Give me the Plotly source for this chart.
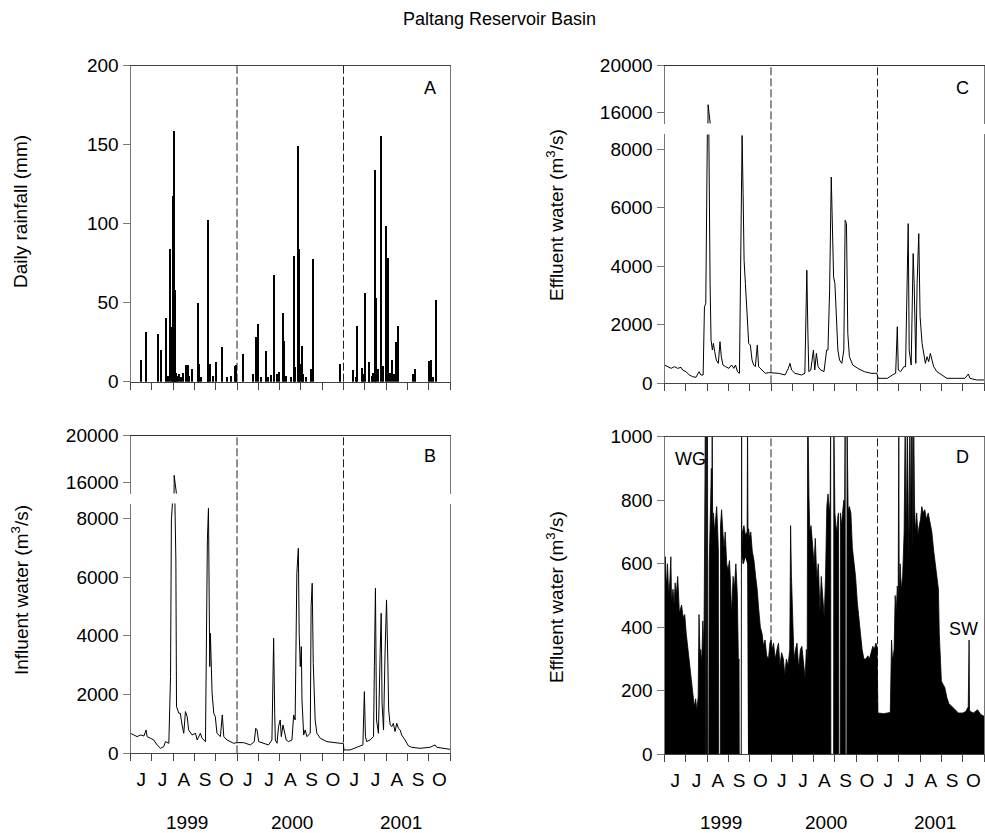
import plotly.graph_objects as go

W, H = 985, 833


def px(x):
    return x / W


def py(y):
    return 1 - y / H


month_labels = ['J', 'J', 'A', 'S', 'O'] * 3
year_labels = ['1999', '2000', '2001']
year_centers = [2.65, 7.6, 12.7]

# Panel A: daily rainfall (mm); x in season-month units (0-15)
rain_x = [0.48, 0.72, 1.27, 1.42, 1.66, 1.75, 1.84, 1.92, 1.98, 2.03, 2.08, 2.12, 2.18, 2.27, 2.35,
          2.45, 2.59, 2.67, 2.75, 2.88, 3.14, 3.20, 3.30, 3.61, 3.64, 3.70, 3.85, 4.02, 4.28, 4.50,
          4.70, 4.88, 4.95, 5.27, 5.72, 5.88, 5.95, 6.10, 6.34, 6.45, 6.58, 6.70, 6.85, 6.94, 7.14,
          7.20, 7.30, 7.50, 7.64, 7.72, 7.84, 7.89, 7.95, 8.03, 8.10, 8.20, 8.44, 8.53, 9.80, 10.45,
          10.55, 10.64, 10.84, 10.90, 11.00, 11.16, 11.19, 11.30, 11.36, 11.48, 11.52, 11.60, 11.75,
          11.85, 11.97, 12.05, 12.15, 12.27, 12.35, 12.45, 12.53, 13.23, 13.33, 14.02, 14.09, 14.20,
          14.33]
rain_mm = [13.7, 31.6, 30.6, 20.0, 40.7, 4.0, 84.2, 35.0, 118.0, 158.6, 58.4, 6.0, 4.0, 5.0, 3.0,
           6.0, 10.5, 10.5, 4.0, 8.4, 50.0, 11.6, 3.0, 102.3, 65.0, 11.6, 4.0, 12.7, 22.2, 3.0,
           4.0, 9.9, 10.5, 17.5, 4.9, 28.5, 37.0, 3.0, 19.4, 3.0, 4.2, 67.5, 5.0, 6.3, 43.7,
           26.0, 4.0, 3.0, 79.5, 9.5, 149.4, 84.0, 11.6, 22.6, 5.0, 3.0, 8.4, 77.6, 11.2, 7.8,
           3.0, 35.2, 9.1, 5.0, 56.5, 6.3, 12.7, 4.0, 5.5, 134.3, 53.0, 8.0, 156.0,
           10.0, 98.7, 78.7, 6.0, 13.7, 5.0, 25.3, 35.2, 4.9, 8.0, 13.1, 13.7, 3.0,
           52.1]

# Panel B: influent water (m3/s)
inf_x = [0.00, 0.16, 0.31, 0.47, 0.63, 0.73, 0.78, 0.94, 1.09, 1.25, 1.41, 1.56, 1.64, 1.80, 1.84,
         1.88, 1.92, 1.95, 2.03, 2.05, 2.07, 2.13, 2.16, 2.27, 2.34, 2.42, 2.50, 2.58, 2.66, 2.73,
         2.89, 3.05, 3.13, 3.28, 3.36, 3.52, 3.56, 3.61, 3.66, 3.69, 3.72, 3.75, 3.80, 3.83, 3.91,
         3.98, 4.06, 4.22, 4.31, 4.38, 4.53, 4.84, 5.00, 5.31, 5.63, 5.81, 5.88, 5.94, 6.02, 6.25,
         6.48, 6.64, 6.69, 6.72, 6.77, 6.80, 6.88, 6.95, 7.03, 7.08, 7.16, 7.22, 7.31, 7.42, 7.58,
         7.66, 7.73, 7.81, 7.88, 7.92, 7.97, 8.02, 8.05, 8.13, 8.20, 8.28, 8.44, 8.48, 8.53, 8.58,
         8.67, 8.75, 8.91, 9.22, 9.53, 9.84, 9.99, 10.02, 10.31, 10.55, 10.78, 10.91, 10.95, 10.98,
         11.03, 11.09, 11.25, 11.41, 11.45, 11.50, 11.55, 11.64, 11.72, 11.77, 11.81, 11.88, 11.95,
         12.02, 12.08, 12.12, 12.19, 12.27, 12.34, 12.42, 12.50, 12.58, 12.66, 12.73, 12.89, 13.05,
         13.20, 13.59, 14.06, 14.30, 14.38, 14.69, 15.00]
inf_q = [681, 624, 568, 624, 590, 795, 568, 511, 454, 284, 170, 227, 397, 341, 1362,
         2611, 7945, 8490, 9200, 16580, 9200, 6583, 1589, 1362, 1362, 965, 681, 1419, 1249, 795,
         624, 681, 454, 681, 511, 397, 3973, 7264, 8342, 6583, 2951, 4086, 3178, 2043, 1362,
         1249, 681, 568, 1305, 568, 454, 341, 363, 363, 284, 397, 851, 795, 397, 341,
         284, 454, 2043, 3916, 1362, 454, 341, 908, 1135, 568, 965, 738, 454, 397, 454,
         1305, 1135, 6129, 6980, 4086, 2951, 3632, 1816, 624, 795, 568, 681, 4994, 5789, 3065,
         1135, 681, 511, 397, 363, 341, 341, 114, 114, 170, 250, 284, 1135, 2100,
         568, 397, 454, 568, 2951, 5618, 1135, 681, 3405, 4767, 1703, 795, 3405,
         5221, 3178, 1476, 965, 908, 1022, 738, 1022, 851, 795, 624, 454, 250,
         204, 170, 204, 284, 204, 170, 136]

# Panel C: effluent water (m3/s)
eff_x = [0.00, 0.155, 0.31, 0.465, 0.62, 0.775, 0.853, 1.008, 1.163, 1.318, 1.473, 1.628, 1.705,
         1.814, 1.876, 1.938, 1.984, 2.02, 2.047, 2.075, 2.14, 2.186, 2.248, 2.295, 2.357, 2.434,
         2.527, 2.605, 2.667, 2.744, 2.868, 3.023, 3.147, 3.256, 3.333, 3.426, 3.519, 3.581, 3.643,
         3.69, 3.736, 3.798, 3.876, 3.953, 4.031, 4.109, 4.186, 4.264, 4.357, 4.419, 4.574, 4.729,
         4.884, 5.039, 5.349, 5.659, 5.814, 5.891, 5.969, 6.124, 6.434, 6.589, 6.682, 6.729, 6.775,
         6.868, 6.992, 7.054, 7.132, 7.209, 7.333, 7.488, 7.612, 7.674, 7.752, 7.829, 7.876, 7.938,
         8.0, 8.062, 8.14, 8.217, 8.326, 8.419, 8.481, 8.543, 8.605, 8.682, 8.837, 9.07, 9.38, 9.69,
         9.97, 10.03, 10.155, 10.465, 10.698, 10.853, 10.93, 10.977, 11.085, 11.24, 11.318, 11.395,
         11.442, 11.488, 11.581, 11.674, 11.721, 11.798, 11.86, 11.938, 12.0, 12.093, 12.171, 12.248,
         12.326, 12.403, 12.481, 12.558, 12.636, 12.791, 13.023, 13.256, 13.721, 14.109, 14.264,
         14.341, 14.651, 15.0]
eff_q = [625, 568, 511, 568, 511, 545, 454, 398, 284, 227, 204, 398, 284,
         284, 2613, 2726, 5680, 9200, 16630, 9200, 3408, 1477, 1136, 1363, 1079, 795,
         682, 1420, 909, 625, 568, 511, 625, 511, 625, 398, 341, 5339, 8463,
         6475, 4203, 3408, 2272, 1363, 1306, 795, 625, 568, 1306, 568, 454, 341,
         364, 364, 341, 284, 511, 682, 454, 341, 284, 341, 3862, 1818, 398,
         454, 1136, 454, 1022, 568, 454, 398, 1136, 1136, 3181, 7043, 5453, 3635,
         3408, 2272, 1136, 795, 682, 1136, 5566, 5453, 1704, 909, 625, 511, 398, 341,
         341, 170, 170, 170, 284, 341, 1931, 454, 398, 568, 568, 4203,
         5453, 1136, 625, 4430, 3408, 682, 3408, 5112, 2272, 1363, 1022, 682,
         909, 738, 1022, 795, 568, 398, 284, 170, 170, 170, 318,
         170, 114, 114]

# Panel D: effluent water, 0-1000 view (band between low and high envelopes)
d_x = [0.00, 0.04, 0.07, 0.10, 0.14, 0.20, 0.25, 0.30, 0.33, 0.40, 0.45, 0.50, 0.55, 0.62,
       0.70, 0.80, 0.88, 0.95, 1.02, 1.10, 1.18, 1.25, 1.32, 1.40, 1.46, 1.52, 1.58, 1.62, 1.67,
       1.70, 1.75, 1.80, 1.85, 1.88, 1.90, 1.92, 1.93, 1.95, 1.96, 2.02, 2.03,
       2.08, 2.10, 2.14, 2.20, 2.22, 2.24, 2.26, 2.30, 2.35, 2.40, 2.45, 2.50, 2.53, 2.54, 2.62,
       2.63, 2.68, 2.75, 2.80, 2.85, 2.92, 2.98, 3.05, 3.10, 3.15, 3.22, 3.28, 3.35, 3.42, 3.47,
       3.50, 3.51, 3.60, 3.62, 3.63, 3.65, 3.66, 3.73, 3.80, 3.88, 3.90, 3.92, 3.95, 4.00, 4.05,
       4.12, 4.20, 4.28, 4.35, 4.42, 4.50, 4.58, 4.65, 4.72, 4.80, 4.88, 4.95, 5.00,
       5.05, 5.12, 5.20, 5.28, 5.35, 5.42, 5.50, 5.58, 5.65, 5.72, 5.80, 5.88, 5.92, 5.96, 6.02,
       6.08, 6.15, 6.22, 6.30, 6.38, 6.45, 6.52, 6.60, 6.66, 6.70, 6.72, 6.74, 6.78, 6.82, 6.88,
       6.95, 7.02, 7.08, 7.15, 7.22, 7.30, 7.36, 7.42, 7.50, 7.56, 7.62, 7.68, 7.74, 7.78, 7.80,
       7.81, 7.94, 7.95, 8.00, 8.05, 8.10, 8.14, 8.17, 8.18, 8.25, 8.26, 8.30, 8.36, 8.42, 8.46,
       8.48, 8.49, 8.56, 8.57, 8.62, 8.68, 8.75, 8.82, 8.90, 8.97, 9.05, 9.12, 9.20, 9.28, 9.36,
       9.45, 9.55, 9.62, 9.70, 9.78, 9.85, 9.92, 9.98,
       10.02, 10.30, 10.60, 10.66, 10.70, 10.74, 10.78, 10.83, 10.88, 10.93, 10.97, 11.00, 11.02,
       11.06, 11.12, 11.18, 11.25, 11.30, 11.35, 11.40, 11.43, 11.47, 11.52, 11.56, 11.60, 11.63,
       11.66, 11.70, 11.74, 11.78, 11.84, 11.90, 11.96, 12.02, 12.08, 12.15, 12.22, 12.30, 12.38,
       12.46, 12.55, 12.64, 12.72, 12.80, 12.86, 12.90, 12.94, 13.00, 13.08, 13.16, 13.25, 13.35,
       13.50, 13.65, 13.80, 14.00, 14.15, 14.26, 14.30, 14.32, 14.36, 14.50, 14.70, 14.85, 15.00]
d_lo = [0] * 75 + [600, 620, 600, 600, 620, 600] + [0] * 166
d_hi = [612, 622, 560, 530, 600, 500, 545, 622, 480, 520, 470, 540, 500, 560, 445,
        470, 430, 440, 380, 330, 280, 255, 200, 150, 175, 140, 180, 440, 300, 330,
        290, 420, 330, 760, 1050, 1050, 0, 0, 1050, 1050, 0,
        0, 600, 780, 900, 760, 1050, 720, 760, 700, 740, 780, 700, 640, 0, 0,
        720, 770, 690, 650, 700, 600, 580, 610, 540, 440, 560, 520, 600, 500, 290,
        300, 0, 0, 1050, 640, 680, 700, 720, 690, 700, 1050, 690, 710, 680, 700,
        640, 610, 560, 520, 460, 400, 380, 340, 360, 310, 300, 350, 360,
        330, 350, 300, 330, 350, 280, 320, 300, 250, 300, 280, 330, 720, 560, 400,
        300, 330, 350, 270, 330, 340, 280, 240, 330, 300, 1050, 1050, 820, 700, 720,
        650, 600, 680, 550, 600, 450, 560, 500, 430, 560, 780, 820, 760, 800, 1050,
        0, 0, 1050, 760, 720, 700, 750, 760, 0, 0, 760, 720, 760, 800, 780,
        1050, 0, 0, 1050, 770, 780, 760, 650, 600, 560, 480, 420, 380, 330, 300,
        300, 310, 300, 320, 340, 330, 350, 340,
        130, 128, 132, 360, 300, 310, 330, 500, 450, 530, 480, 1050, 480,
        600, 520, 560, 700, 1050, 650, 1050, 760, 600, 1050, 700, 1050, 1050,
        640, 1050, 780, 700, 760, 690, 720, 740, 780, 760, 770, 740, 760,
        730, 700, 640, 600, 560, 520, 380, 300, 230, 220, 210, 180, 160,
        150, 140, 130, 130, 135, 150, 360, 140, 135, 130, 140, 125, 120]

FONT = 'Liberation Sans, Arial, sans-serif'
XAX = '#444444'
YAX = '#777777'
TOPC = '#333333'

LEFT = [px(130.5), px(450.0)]
RIGHT = [px(664.5), px(984.0)]

fig = go.Figure()

line_style = dict(color='black', width=1)

fig.add_trace(go.Bar(x=rain_x, y=rain_mm, width=0.06, marker=dict(color='black', line_width=0),
                     xaxis='x', yaxis='y', showlegend=False))
fig.add_trace(go.Scatter(x=inf_x, y=inf_q, mode='lines', line=line_style, xaxis='x2', yaxis='y2',
                         showlegend=False))
fig.add_trace(go.Scatter(x=inf_x, y=inf_q, mode='lines', line=line_style, xaxis='x3', yaxis='y3',
                         showlegend=False))
fig.add_trace(go.Scatter(x=eff_x, y=eff_q, mode='lines', line=line_style, xaxis='x4', yaxis='y4',
                         showlegend=False))
fig.add_trace(go.Scatter(x=eff_x, y=eff_q, mode='lines', line=line_style, xaxis='x5', yaxis='y5',
                         showlegend=False))
fig.add_trace(go.Scatter(x=d_x, y=d_lo, mode='lines', line=dict(color='black', width=0),
                         xaxis='x6', yaxis='y6', showlegend=False))
fig.add_trace(go.Scatter(x=d_x, y=d_hi, mode='lines', line=dict(color='black', width=0.8),
                         fill='tonexty', fillcolor='black', xaxis='x6', yaxis='y6', showlegend=False))

centers = [i + 0.5 for i in range(15)]


def xaxis_cfg(domain, anchor, labels, mirror=True):
    return dict(domain=domain, anchor=anchor, range=[0, 15], showgrid=False, zeroline=False,
                automargin=False,
                showline=True, linecolor=XAX, linewidth=1, mirror=mirror,
                tickvals=centers, ticktext=month_labels, showticklabels=labels,
                ticks='outside', ticklen=9, tickcolor='rgba(0,0,0,0)',
                tickfont=dict(family=FONT, size=19, color='black'),
                minor=dict(tickmode='linear', tick0=0, dtick=1, ticks='outside', ticklen=7,
                           tickcolor=XAX, tickwidth=1, showgrid=False))


def yaxis_cfg(domain, anchor, rng, vals):
    return dict(domain=domain, anchor=anchor, range=rng, showgrid=False, zeroline=False,
                automargin=False,
                showline=True, linecolor=YAX, linewidth=1, mirror=True,
                tickvals=vals, ticktext=[str(v) for v in vals],
                ticks='outside', ticklen=7, tickcolor=YAX,
                tickfont=dict(family=FONT, size=19, color='black'))


def top_axis(domain, anchor):
    return dict(domain=domain, anchor=anchor, range=[0, 15], side='top', showgrid=False,
                automargin=False,
                zeroline=False, showline=True, linecolor=TOPC, linewidth=1, ticks='',
                showticklabels=False)


layout = dict(
    width=W, height=H, margin=dict(l=0, r=0, t=0, b=0, pad=0, autoexpand=False),
    paper_bgcolor='white', plot_bgcolor='white', showlegend=False, bargap=0,
    font=dict(family=FONT, size=18, color='black'),
    xaxis=xaxis_cfg(LEFT, 'y', False),
    yaxis=yaxis_cfg([py(381.7), py(65.7)], 'x', [0, 200], [0, 50, 100, 150, 200]),
    xaxis2=xaxis_cfg(LEFT, 'y2', True, mirror=False),
    yaxis2=yaxis_cfg([py(753.3), py(503.6)], 'x2', [0, 8500], [0, 2000, 4000, 6000, 8000]),
    xaxis3=top_axis(LEFT, 'y3'),
    yaxis3=yaxis_cfg([py(493.6), py(435.7)], 'x3', [15000, 20000], [16000, 20000]),
    xaxis4=xaxis_cfg(RIGHT, 'y4', False, mirror=False),
    yaxis4=yaxis_cfg([py(383.3), py(134.4)], 'x4', [0, 8500], [0, 2000, 4000, 6000, 8000]),
    xaxis5=top_axis(RIGHT, 'y5'),
    yaxis5=yaxis_cfg([py(123.6), py(65.7)], 'x5', [15000, 20000], [16000, 20000]),
    xaxis6=xaxis_cfg(RIGHT, 'y6', True),
    yaxis6=yaxis_cfg([py(754.3), py(436.7)], 'x6', [0, 1000], [0, 200, 400, 600, 800, 1000]),
)
fig.update_layout(**layout)

# dashed year separators
shapes = []
panels = [('x', py(381.7), py(65.7)), ('x2', py(753.3), py(435.7)),
          ('x4', py(383.3), py(65.7)), ('x6', py(754.3), py(436.7))]
for xr, y0, y1 in panels:
    for xv in (5, 10):
        shapes.append(dict(type='line', xref=xr, yref='paper', x0=xv, x1=xv, y0=y0, y1=y1,
                           line=dict(color='#222222', width=1, dash='8px,3px'), layer='below'))
fig.update_layout(shapes=shapes)

ann = []


def text(x, y, s, size=18, xref='paper', angle=0, xanchor='center'):
    ann.append(dict(x=x, y=y, xref=xref, yref='paper', text=s, showarrow=False, textangle=angle,
                    xanchor=xanchor, yanchor='middle', font=dict(family=FONT, size=size, color='black')))


text(px(500), py(19), 'Paltang Reservoir Basin', size=18)
text(px(430), py(88), 'A')
text(px(430), py(456), 'B')
text(px(962), py(88), 'C')
text(px(962), py(457), 'D')
text(px(690), py(459), 'WG')
text(px(963), py(629), 'SW')
text(px(20), py(212), 'Daily rainfall (mm)', size=19, angle=-90)
text(px(20), py(590), 'Influent water (m<sup>3</sup>/s)', size=19, angle=-90)
text(px(555), py(215), 'Effluent water (m<sup>3</sup>/s)', size=19, angle=-90)
text(px(555), py(597), 'Effluent water (m<sup>3</sup>/s)', size=19, angle=-90)
for xc, yl in zip(year_centers, year_labels):
    text(xc, py(822), yl, size=19, xref='x2')
    text(xc, py(822), yl, size=19, xref='x6')
fig.update_layout(annotations=ann)

# place the figure at the page origin without scrollbars or a mode bar
fig.write_html('out.html', config={'displayModeBar': False},
               post_script="document.body.style.margin='0';document.body.style.overflow='hidden';")
